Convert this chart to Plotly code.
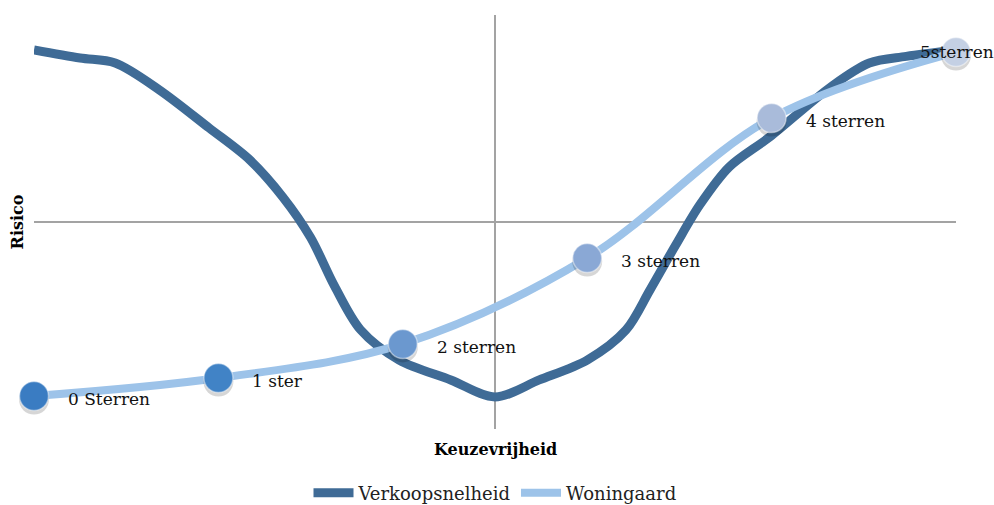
import plotly.graph_objects as go

# ---- data ----
ster_x = [0, 1, 2, 3, 4, 5]
woning_y = [-8.41, -7.54, -5.89, -1.74, 5.02, 8.21]
ster_labels = ["0 Sterren", "1 ster", "2 sterren", "3 sterren", "4 sterren", "5sterren"]
marker_colors = ["#3a7cc2", "#4183c6", "#6b98cf", "#8aa8d5", "#a9bbda", "#c4d0e4"]

verkoop_x = [0.0, 0.25, 0.44, 0.68, 0.95, 1.17, 1.35, 1.50, 1.63, 1.77, 1.98, 2.26,
             2.5, 2.74, 3.0, 3.21, 3.34, 3.48, 3.61, 3.77, 3.99, 4.32, 4.53, 4.73, 5.0]
verkoop_y = [8.31, 7.92, 7.68, 6.38, 4.54, 3.0, 1.2, -0.75, -3.1, -5.2, -6.67, -7.63,
             -8.45, -7.63, -6.67, -5.22, -3.29, -1.11, 0.82, 2.66, 4.11, 6.52, 7.68, 8.0, 8.31]

FONT = "DejaVu Serif"
DARK = "#3f6b96"
LIGHT = "#9dc3e9"

fig = go.Figure()

fig.add_trace(go.Scatter(
    x=verkoop_x, y=verkoop_y, mode="lines", name="Verkoopsnelheid",
    line=dict(color=DARK, width=9, shape="spline", smoothing=0.9),
    cliponaxis=False, hoverinfo="skip"))

fig.add_trace(go.Scatter(
    x=ster_x, y=woning_y, mode="lines", name="Woningaard",
    line=dict(color=LIGHT, width=8, shape="spline", smoothing=1.0),
    cliponaxis=False, hoverinfo="skip"))

# soft shadow under the markers (overlay axis shifted a few pixels)
fig.add_trace(go.Scatter(
    x=ster_x, y=woning_y, mode="markers", showlegend=False, yaxis="y2",
    marker=dict(size=30, color="rgba(0,0,0,0.16)", line=dict(width=0)),
    cliponaxis=False, hoverinfo="skip"))

fig.add_trace(go.Scatter(
    x=ster_x, y=woning_y, mode="markers", showlegend=False, yaxis="y3",
    marker=dict(size=29, color=marker_colors,
                line=dict(color="rgba(255,255,255,0.45)", width=1.5)),
    cliponaxis=False, hoverinfo="skip"))

# label annotations
for i, (xv, yv, t) in enumerate(zip(ster_x, woning_y, ster_labels)):
    last = i == len(ster_x) - 1
    fig.add_annotation(
        x=xv, y=yv, text=t, showarrow=False,
        xanchor="center" if last else "left",
        xshift=1 if last else 32, yshift=0 if last else -3,
        font=dict(family=FONT, size=17, color="#111111"))

# crossing axes
fig.add_shape(type="line", xref="x", yref="y", x0=2.5, x1=2.5, y0=-10, y1=10,
              line=dict(color="#a3a3a3", width=2), layer="below")
fig.add_shape(type="line", xref="x", yref="y", x0=0, x1=5, y0=0, y1=0,
              line=dict(color="#a3a3a3", width=2), layer="below")

# axis titles
fig.add_annotation(xref="paper", yref="paper", x=0.5, y=-0.05, yanchor="middle",
                   text="<b>Keuzevrijheid</b>", showarrow=False,
                   font=dict(family=FONT, size=16, color="#000000"))
fig.add_annotation(xref="paper", yref="paper", x=-0.018, y=0.5, xanchor="center",
                   text="<b>Risico</b>", textangle=-90, showarrow=False,
                   font=dict(family=FONT, size=16, color="#000000"))

fig.update_xaxes(range=[0, 5], showgrid=False, zeroline=False, showticklabels=False,
                 showline=False, ticks="")
fig.update_yaxes(range=[-10, 10], showgrid=False, zeroline=False, showticklabels=False,
                 showline=False, ticks="")

fig.update_layout(
    width=994, height=505,
    margin=dict(l=34, r=38, t=15, b=76, autoexpand=False),
    paper_bgcolor="white", plot_bgcolor="white",
    yaxis2=dict(overlaying="y", range=[-9.83, 10.17], visible=False),
    yaxis3=dict(overlaying="y", range=[-10, 10], visible=False),
    legend=dict(orientation="h", x=0.5, xanchor="center", y=-0.155, yanchor="middle",
                font=dict(family=FONT, size=18, color="#222222"),
                itemwidth=40, tracegroupgap=0),
    font=dict(family=FONT),
)

fig.write_html("out.html")
